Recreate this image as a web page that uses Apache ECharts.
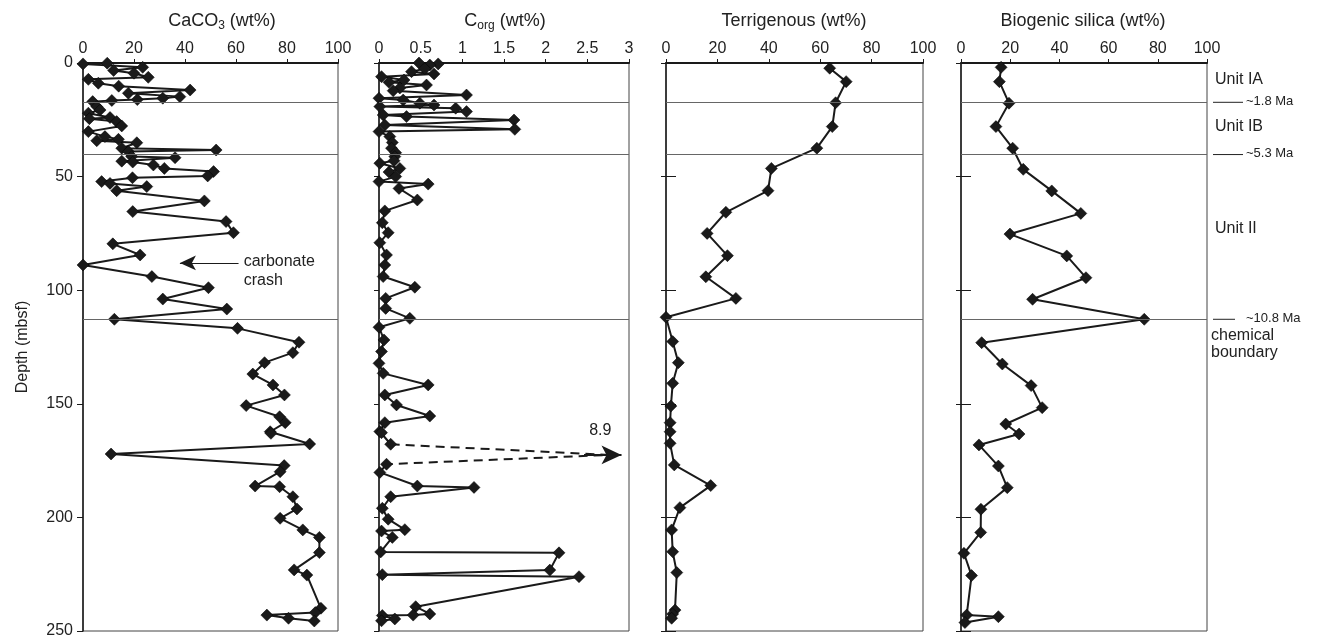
<!DOCTYPE html>
<html>
<head>
<meta charset="utf-8">
<title>Sediment composition vs depth</title>
<script src="https://cdn.jsdelivr.net/npm/echarts@6/dist/echarts.min.js"></script>
<style>
  html, body { margin: 0; padding: 0; background: #fff; }
  #chart { width: 1325px; height: 644px; }
</style>
</head>
<body>
<div id="chart"></div>
<script>
// ---- data: [depth (mbsf), value (wt%)] ----
const caco3 = [
  [0.1, 9.5], [0.4, 0], [1.9, 23.4], [3.3, 12], [4.5, 20], [6.3, 25.6], [7.2, 2.1], [8.9, 6],
  [10.2, 14], [11.9, 42], [13.3, 17.8], [14.8, 38], [15.5, 31.3], [16.1, 21.3], [16.5, 11.3],
  [17.0, 3.8], [19.2, 5.4], [20.7, 6.7], [22.1, 2.1], [24.0, 10.6], [24.5, 2.5], [25.8, 13.2],
  [27.7, 15.2], [30.2, 2.1], [32.4, 8.6], [33.6, 13.9], [34.2, 5.4], [35.1, 21.1], [37.5, 15.2],
  [38.3, 52.2], [39.0, 17.8], [41.2, 19.1], [41.7, 36.1], [43.2, 15.2], [43.6, 19.5], [44.9, 27.6],
  [46.4, 31.9], [47.8, 51.2], [49.7, 48.9], [50.5, 19.4], [52.2, 7.3], [53.0, 10.6], [54.4, 25],
  [56.2, 13.2], [60.7, 47.6], [65.4, 19.5], [69.8, 56.1], [74.7, 59], [79.6, 11.7], [84.5, 22.4],
  [88.9, 0], [94.0, 27], [98.9, 49.2], [103.9, 31.3], [108.3, 56.4], [112.8, 12.3], [116.8, 60.6],
  [122.9, 84.7], [127.5, 82.3], [131.9, 71.2], [136.9, 66.6], [141.7, 74.5], [146.1, 79],
  [150.8, 64], [155.7, 77.1], [158.3, 79.3], [162.3, 73.4], [163.0, 73.7], [167.7, 88.9],
  [172.1, 11], [177.2, 78.9], [179.9, 77.3], [186.2, 67.5], [186.5, 77.1], [190.9, 82.3],
  [196.3, 83.9], [200.4, 77.3], [205.5, 86.2], [208.8, 92.7], [215.5, 92.7], [223.1, 82.8],
  [225.4, 87.8], [240.0, 93.3], [241.9, 91.1], [243.0, 72.1], [244.4, 80.6], [245.6, 90.7]
];

const corg = [
  [0, 0.48], [0.4, 0.71], [0.9, 0.61], [2.5, 0.55], [3.8, 0.39], [4.8, 0.66], [6, 0.03], [7.5, 0.3],
  [8.5, 0.12], [9.7, 0.57], [11, 0.25], [12.2, 0.17], [14.1, 1.05], [15.5, 0], [16.3, 0.29],
  [17.7, 0.49], [18.5, 0.66], [19.2, 0.01], [19.9, 0.92], [21.4, 1.05], [22.9, 0.05], [23.6, 0.33],
  [25.1, 1.62], [27.3, 0.07], [29.2, 1.63], [30.2, 0], [32.4, 0.13], [35, 0.16], [37.5, 0.15],
  [39.5, 0.2], [41.2, 0.19], [43, 0.18], [44.1, 0.01], [46.4, 0.25], [48, 0.12], [50, 0.2],
  [52.2, 0], [53.3, 0.59], [55.2, 0.24], [60.3, 0.46], [65.1, 0.07], [70.3, 0.04], [74.7, 0.11],
  [79.1, 0.01], [84.5, 0.09], [88.9, 0.07], [94, 0.05], [98.7, 0.43], [103.6, 0.08], [108, 0.08],
  [112.4, 0.37], [116.3, 0], [121.9, 0.06], [127, 0.03], [132.2, 0], [136.6, 0.05], [141.7, 0.59],
  [146.1, 0.07], [150.5, 0.21], [155.4, 0.61], [158.3, 0.07], [162.2, 0.01], [162.7, 0.03],
  [167.8, 0.14], [172.5, 8.9], [176.6, 0.09], [180.2, 0.01], [186.2, 0.46], [186.8, 1.14],
  [190.9, 0.14], [196, 0.04], [200.8, 0.11], [205.4, 0.31], [206, 0.03], [208.8, 0.16],
  [215.2, 0.02], [215.6, 2.16], [223.2, 2.05], [225.2, 0.04], [226.1, 2.4], [239.3, 0.44],
  [242.5, 0.61], [243, 0.41], [243.2, 0.04], [244.7, 0.19], [245.5, 0.03]
];

const terrigenous = [
  [2.3, 63.7], [8.2, 70.1], [17.5, 66], [28, 64.7], [37.5, 58.7], [46.4, 41], [56.2, 39.7],
  [65.7, 23.3], [75, 16], [84.8, 23.9], [94.1, 15.5], [103.6, 27.2], [111.9, 0], [122.6, 2.6],
  [131.9, 4.8], [141, 2.6], [151, 1.9], [158.3, 1.6], [162.3, 1.6], [167.4, 1.6], [176.9, 3.2],
  [186, 17.4], [195.7, 5.4], [205.5, 2.2], [215.1, 2.6], [224.3, 4.2], [240.8, 3.5],
  [242.5, 2.6], [244.4, 2.2]
];

const biogenicSilica = [
  [1.9, 16.3], [8.2, 15.6], [17.7, 19.5], [28, 14.2], [37.5, 21], [46.8, 25.3], [56.3, 36.9],
  [66.2, 48.7], [75.3, 19.9], [84.9, 43], [94.5, 50.8], [104, 29.1], [112.8, 74.5], [123.1, 8.4],
  [132.5, 16.8], [142, 28.5], [151.7, 33], [158.9, 18.2], [163.3, 23.6], [168.1, 7.3],
  [177.4, 15.2], [186.9, 18.8], [196.4, 8.1], [206.6, 8], [215.8, 1.2], [225.6, 4.3],
  [243, 2.3], [243.7, 15.2], [246.3, 1.6]
];

// lithologic unit boundaries and their ages
const boundaryDepths = [17.3, 40.3, 112.8];
const boundaryAges = ['~1.8 Ma', '~5.3 Ma', '~10.8 Ma'];
const unitNames = ['Unit IA', 'Unit IB', 'Unit II'];
const unitDepths = [7.5, 28.2, 73];

// axis ranges
const depthRange = [0, 250];
const depthStep = 50;
const corgRange = [0, 3];
const corgStep = 0.5;
const pctRange = [0, 100];
const pctStep = 20;

// carbonate crash annotation depth
const crashDepth = 88;

// ---- layout ----
const FONT = '"Liberation Sans", Arial, Helvetica, sans-serif';
const INK = '#1a1a1a';
const GRID_TOP = 63, GRID_H = 568;
const panels = [
  { left: 83,  width: 255, range: pctRange,  step: pctStep,  data: caco3,
    title: '{m|CaCO}{s|3}{m| (wt%)}', titleX: 222 },
  { left: 379, width: 250, range: corgRange, step: corgStep, data: corg,
    title: '{m|C}{s|org}{m| (wt%)}', titleX: 505 },
  { left: 666, width: 257, range: pctRange,  step: pctStep,  data: terrigenous,
    title: '{m|Terrigenous (wt%)}', titleX: 794 },
  { left: 961, width: 246, range: pctRange,  step: pctStep,  data: biogenicSilica,
    title: '{m|Biogenic silica (wt%)}', titleX: 1083 }
];

const chart = echarts.init(document.getElementById('chart'), null, { renderer: 'canvas' });

const boundaryMarkLine = {
  silent: true,
  symbol: ['none', 'none'],
  label: { show: false },
  lineStyle: { color: '#666', width: 1, type: 'solid' },
  data: boundaryDepths.map(d => ({ yAxis: d }))
};

const grids = panels.map(p => ({
  left: p.left, top: GRID_TOP, width: p.width, height: GRID_H,
  show: true, borderColor: '#444', borderWidth: 1, backgroundColor: 'transparent'
}));

const xAxes = panels.map((p, i) => ({
  gridIndex: i, type: 'value', position: 'top',
  min: p.range[0], max: p.range[1], interval: p.step,
  axisLine: { show: true, lineStyle: { color: INK, width: 2 } },
  axisTick: { show: true, length: 4, lineStyle: { color: INK } },
  axisLabel: { fontSize: 16, color: '#222', fontFamily: FONT, margin: 6 },
  splitLine: { show: false }
}));

const yAxes = [];
panels.forEach((p, i) => {
  yAxes.push({
    gridIndex: i, type: 'value', inverse: true, position: 'left',
    min: depthRange[0], max: depthRange[1], interval: depthStep,
    axisLine: { show: true, lineStyle: { color: INK, width: 1.5 } },
    axisTick: { show: true, length: i === 0 ? 6 : 5, lineStyle: { color: INK } },
    axisLabel: { show: i === 0, fontSize: 16, color: '#222', fontFamily: FONT, margin: 10 },
    splitLine: { show: false },
    name: i === 0 ? 'Depth (mbsf)' : '',
    nameLocation: 'middle', nameGap: 52, nameRotate: 90,
    nameTextStyle: { fontSize: 16, color: '#222', fontFamily: FONT }
  });
});
// inner tick marks on the two right-hand panels
[2, 3].forEach(i => {
  yAxes.push({
    gridIndex: i, type: 'value', inverse: true, position: 'left', offset: 0,
    min: depthRange[0], max: depthRange[1], interval: depthStep,
    axisLine: { show: false },
    axisTick: { show: true, inside: true, length: 10, lineStyle: { color: INK } },
    axisLabel: { show: false }, splitLine: { show: false }
  });
});

const lineBase = {
  type: 'line',
  symbol: 'diamond',
  symbolSize: 12,
  showSymbol: true,
  connectNulls: false,
  lineStyle: { color: INK, width: 2 },
  itemStyle: { color: INK, borderColor: '#000', borderWidth: 0.5 },
  emphasis: { disabled: true },
  z: 3
};

const series = panels.map((p, i) => {
  const max = p.range[1];
  // values beyond the axis leave a gap in the solid trace
  const pts = p.data.map(([d, v]) => (v <= max ? [v, d] : ['-', d]));
  return Object.assign({}, lineBase, {
    name: 'panel' + i, xAxisIndex: i, yAxisIndex: i, data: pts,
    markLine: boundaryMarkLine
  });
});

// carbonate crash arrow in the CaCO3 panel
series.push({
  type: 'line', xAxisIndex: 0, yAxisIndex: 0, data: [], silent: true,
  markLine: {
    silent: true, symbol: ['none', 'arrow'], symbolSize: [11, 16],
    label: { show: false },
    lineStyle: { color: INK, width: 1, type: 'solid' },
    data: [[{ coord: [61, crashDepth] }, { coord: [38, crashDepth] }]]
  }
});

// off-scale Corg value: dashed leaders to an arrow at the panel edge
const offIdx = corg.findIndex(([d, v]) => v > corgRange[1]);
if (offIdx > 0) {
  const [offDepth, offValue] = corg[offIdx];
  const before = corg[offIdx - 1], after = corg[offIdx + 1];
  const joinX = corgRange[1] * 0.92;
  series.push({
    type: 'line', xAxisIndex: 1, yAxisIndex: 1, silent: true,
    showSymbol: false, symbol: 'none',
    lineStyle: { color: INK, width: 2, type: [9, 6] },
    data: [[before[1], before[0]], [joinX, offDepth], [after[1], after[0]]],
    markLine: {
      silent: true, symbol: ['none', 'arrow'], symbolSize: [14, 20],
      label: { show: false },
      lineStyle: { color: INK, width: 2, type: 'solid' },
      data: [[{ coord: [corgRange[1] * 0.82, offDepth] }, { coord: [corgRange[1] * 0.97, offDepth] }]]
    },
    markPoint: {
      silent: true, symbol: 'circle', symbolSize: 0,
      data: [{ coord: [corgRange[1] * 0.885, offDepth], value: offValue }],
      label: {
        show: true, position: 'top', distance: 16,
        formatter: p => p.value.toFixed(1),
        fontSize: 16, color: '#222', fontFamily: FONT
      }
    }
  });
}

chart.setOption({
  animation: false,
  backgroundColor: '#fff',
  grid: grids,
  xAxis: xAxes,
  yAxis: yAxes,
  series: series
});

// ---- text annotations positioned through the axes ----
const px = (gi, x, d) => chart.convertToPixel({ gridIndex: gi }, [x, d]);
const graphics = [];

panels.forEach(p => {
  graphics.push({
    type: 'text', x: p.titleX, y: 21, silent: true,
    style: {
      text: p.title, align: 'center', verticalAlign: 'middle', fontFamily: FONT,
      rich: {
        m: { fontSize: 18, lineHeight: 22, fill: '#222', fontFamily: FONT },
        s: { fontSize: 12, lineHeight: 12, fill: '#222', fontFamily: FONT, verticalAlign: 'bottom' }
      }
    }
  });
});

// carbonate crash label
const crashPt = px(0, 63, crashDepth);
graphics.push({
  type: 'text', x: crashPt[0], y: crashPt[1] - 11, silent: true,
  style: { text: 'carbonate\ncrash', fontSize: 16, lineHeight: 19, fill: '#222', fontFamily: FONT,
           align: 'left', verticalAlign: 'top' }
});

// unit names and boundary ages to the right of the last panel
const rightEdge = px(3, pctRange[1], 0)[0];
unitNames.forEach((name, k) => {
  const y = px(3, 0, unitDepths[k])[1];
  graphics.push({
    type: 'text', x: rightEdge + 8, y: y, silent: true,
    style: { text: name, fontSize: 16, fill: '#222', fontFamily: FONT, align: 'left', verticalAlign: 'middle' }
  });
});
boundaryDepths.forEach((d, k) => {
  const y = px(3, 0, d)[1];
  const len = k === 2 ? 22 : 30;
  graphics.push({
    type: 'line', silent: true,
    shape: { x1: rightEdge + 6, y1: y, x2: rightEdge + 6 + len, y2: y },
    style: { stroke: '#222', lineWidth: 1 }
  });
  graphics.push({
    type: 'text', x: rightEdge + 39, y: y - 1, silent: true,
    style: { text: boundaryAges[k], fontSize: 13, fill: '#222', fontFamily: FONT, align: 'left', verticalAlign: 'middle' }
  });
});
const chemY = px(3, 0, boundaryDepths[2])[1];
graphics.push({
  type: 'text', x: rightEdge + 4, y: chemY + 8, silent: true,
  style: { text: 'chemical\nboundary', fontSize: 16, lineHeight: 17, fill: '#222', fontFamily: FONT,
           align: 'left', verticalAlign: 'top' }
});

chart.setOption({ graphic: graphics });
</script>
</body>
</html>
